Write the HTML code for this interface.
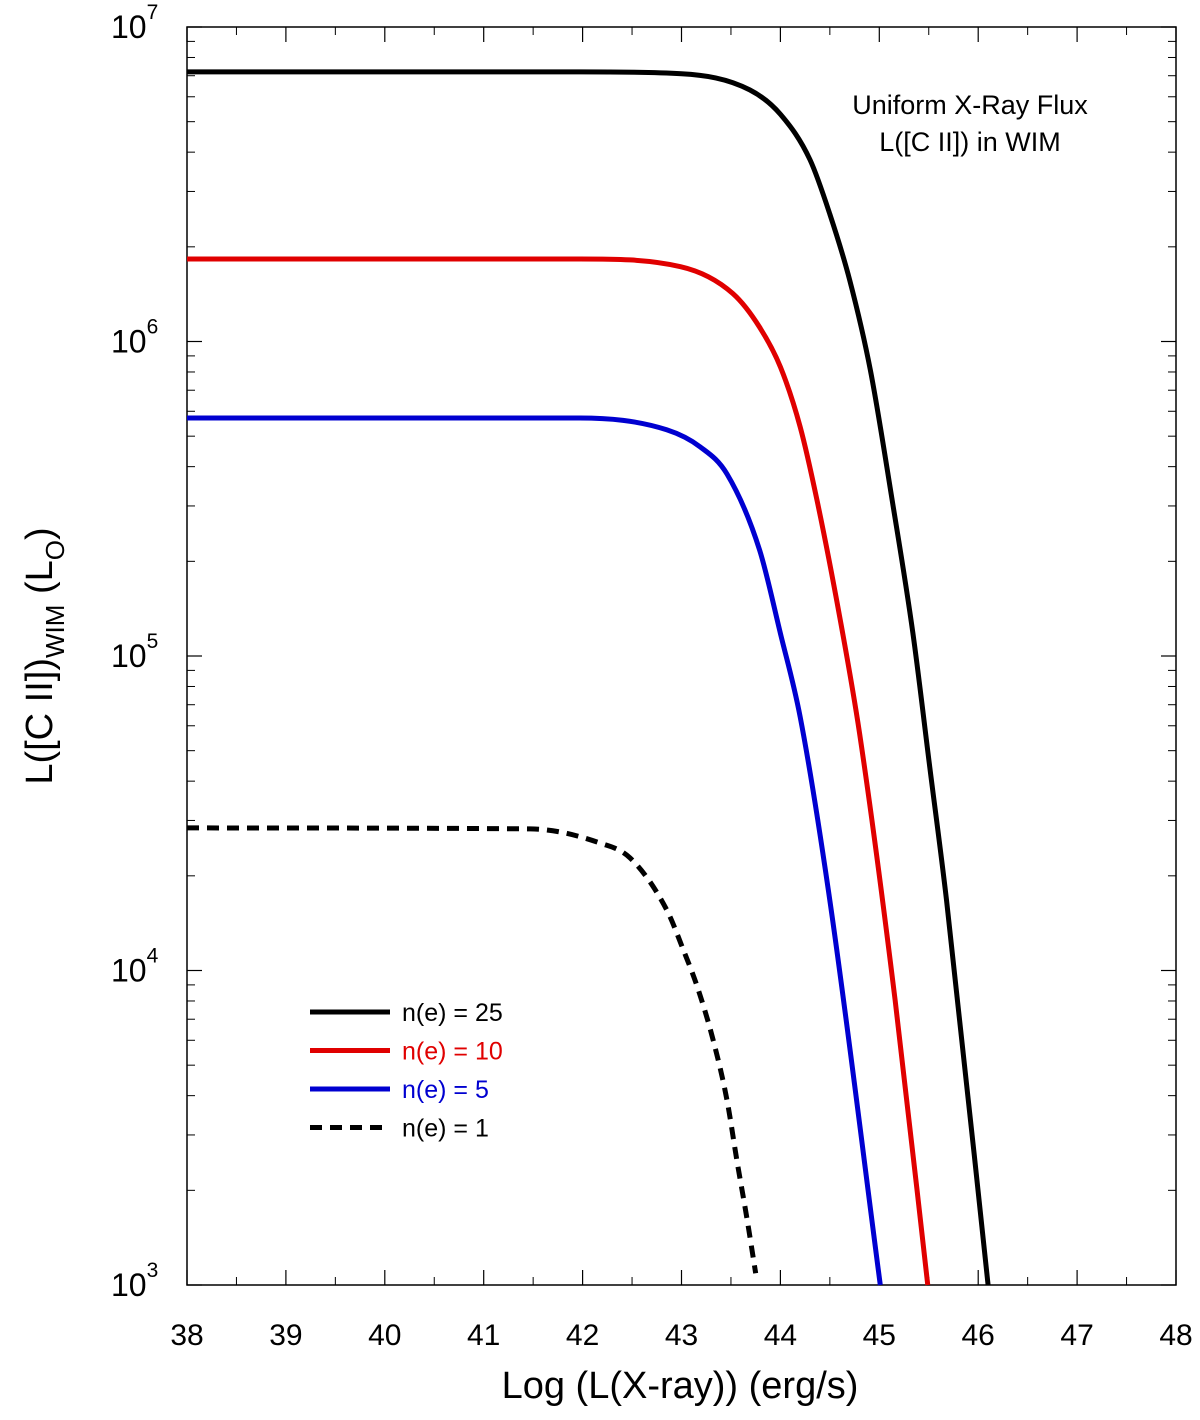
<!DOCTYPE html>
<html><head><meta charset="utf-8"><style>
body{margin:0;background:#fff}
svg text{font-family:"Liberation Sans",Arial,sans-serif}
</style></head><body>
<svg id="chart" width="1200" height="1415" xmlns="http://www.w3.org/2000/svg">
<g id="axes"></g>
<g id="series"></g>
<text x="970" y="114" font-size="27" text-anchor="middle">Uniform X-Ray Flux</text>
<text x="970" y="151" font-size="27" text-anchor="middle">L([C II]) in WIM</text>
<text x="680" y="1398" font-size="38" text-anchor="middle">Log (L(X-ray)) (erg/s)</text>
<text transform="translate(52,656) rotate(-90)" font-size="38" text-anchor="middle">L([C II])<tspan font-size="26" dy="12">WIM</tspan><tspan dy="-12"> (L</tspan><tspan font-size="26" dy="12">O</tspan><tspan dy="-12">)</tspan></text>
<g id="legend"></g>
</svg>
<script>
const xTicks=[38,39,40,41,42,43,44,45,46,47,48];
const yExps=[3,4,5,6,7];
const seriesNames=["n(e) = 25","n(e) = 10","n(e) = 5","n(e) = 1"];
const xBlack=[38,41.97,43.0,43.69,44.0,44.30,44.50,44.70,44.91,45.13,45.34,45.51,45.68,46.10];
const yBlack=[7.2e6,7.2e6,7.1e6,6.31e6,5.28e6,3.78e6,2.54e6,1.57e6,8.1e5,3.13e5,1.18e5,4.44e4,1.67e4,1e3];
const xRed=[38,41.97,42.99,43.52,43.79,44.0,44.20,44.37,44.60,44.80,45.16,45.49];
const yRed=[1.83e6,1.83e6,1.73e6,1.42e6,1.11e6,8.3e5,5.35e5,3.13e5,1.33e5,5.69e4,8.05e3,1e3];
const xBlue=[38,41.97,42.85,43.19,43.46,43.79,44.0,44.20,44.50,45.01];
const yBlue=[5.71e5,5.71e5,5.24e5,4.62e5,3.79e5,2.17e5,1.18e5,6.4e4,1.67e4,1e3];
const xDash=[38,41.47,42.18,42.48,42.85,43.02,43.16,43.32,43.46,43.56,43.66,43.75];
const yDash=[2.84e4,2.82e4,2.54e4,2.28e4,1.56e4,1.16e4,8.87e3,6.01e3,3.87e3,2.49e3,1.64e3,1.09e3];

const L=187,R=1176,T=27,B=1285;
const sx=v=>L+(v-38)/10*(R-L);
const sy=v=>B-(Math.log10(v)-3)/4*(B-T);
const NS="http://www.w3.org/2000/svg";
function mk(tag,attrs,parent){const e=document.createElementNS(NS,tag);for(const k in attrs)e.setAttribute(k,attrs[k]);parent.appendChild(e);return e;}
const axes=document.getElementById('axes');
const frame=mk('rect',{x:L,y:T,width:R-L,height:B-T,fill:'none',stroke:'#000','stroke-width':1.5},axes);


xTicks.forEach((t,i)=>{const x=sx(t);
 const a=mk('line',{x1:x,x2:x,y1:B,y2:B-15,stroke:'#000','stroke-width':1.2},axes);
 
 
 mk('line',{x1:x,x2:x,y1:T,y2:T+15,stroke:'#000','stroke-width':1.2},axes);
 if(i<xTicks.length-1){const xm=sx(t+0.5);
  mk('line',{x1:xm,x2:xm,y1:B,y2:B-8,stroke:'#000','stroke-width':1},axes);
  mk('line',{x1:xm,x2:xm,y1:T,y2:T+8,stroke:'#000','stroke-width':1},axes);}
 const tx=mk('text',{x:x,y:B+60,'font-size':30,'text-anchor':'middle'},axes);tx.textContent=t;
 
 
});
yExps.forEach(e=>{const y=sy(Math.pow(10,e));
 mk('line',{x1:L,x2:L+15,y1:y,y2:y,stroke:'#000','stroke-width':1.2},axes);
 mk('line',{x1:R,x2:R-15,y1:y,y2:y,stroke:'#000','stroke-width':1.2},axes);
 const tx=mk('text',{x:111,y:y+11,'font-size':32},axes);
 
 
 tx.innerHTML='10<tspan font-size="21" dy="-19">'+e+'</tspan>';
 if(e<7){for(let m=2;m<=9;m++){const ym=sy(m*Math.pow(10,e));
  mk('line',{x1:L,x2:L+8,y1:ym,y2:ym,stroke:'#000','stroke-width':1},axes);
  mk('line',{x1:R,x2:R-8,y1:ym,y2:ym,stroke:'#000','stroke-width':1},axes);}}
});
function pathFrom(xs,ys){
 const px=xs.map(sx),py=ys.map(sy),n=px.length;
 const d=[],m=[];
 for(let i=0;i<n-1;i++)d.push((py[i+1]-py[i])/(px[i+1]-px[i]));
 m[0]=d[0];m[n-1]=d[n-2];
 for(let i=1;i<n-1;i++){m[i]=(d[i-1]*d[i]<=0)?0:(d[i-1]+d[i])/2;}
 for(let i=0;i<n-1;i++){if(d[i]===0){m[i]=0;m[i+1]=0;continue;}
  const a=m[i]/d[i],b=m[i+1]/d[i],s=a*a+b*b;if(s>9){const t=3/Math.sqrt(s);m[i]=t*a*d[i];m[i+1]=t*b*d[i];}}
 let p='M'+px[0]+','+py[0];
 for(let i=0;i<n-1;i++){const h=(px[i+1]-px[i])/3;
  p+=` C${px[i]+h},${py[i]+m[i]*h} ${px[i+1]-h},${py[i+1]-m[i+1]*h} ${px[i+1]},${py[i+1]}`;}
 return p;}
const ser=document.getElementById('series');
const defs=[[xBlack,yBlack,'#000','', 'line-ne-25'],[xRed,yRed,'#e00000','','line-ne-10'],[xBlue,yBlue,'#0000d0','','line-ne-5'],[xDash,yDash,'#000','12,8','line-ne-1']];
defs.forEach(d=>{const p=mk('path',{d:pathFrom(d[0],d[1]),fill:'none',stroke:d[2],'stroke-width':5,'stroke-dasharray':d[3]},ser);
 
 });
const leg=document.getElementById('legend');
defs.forEach((d,i)=>{const y=1012+i*38.5;
 const l=mk('line',{x1:310,x2:390,y1:y,y2:y,stroke:d[2],'stroke-width':5,'stroke-dasharray':d[3]},leg);
 
 
 const t=mk('text',{x:402,y:y+9,'font-size':25,fill:d[2]},leg);t.textContent=seriesNames[i];
 
 });
</script>
</body></html>
